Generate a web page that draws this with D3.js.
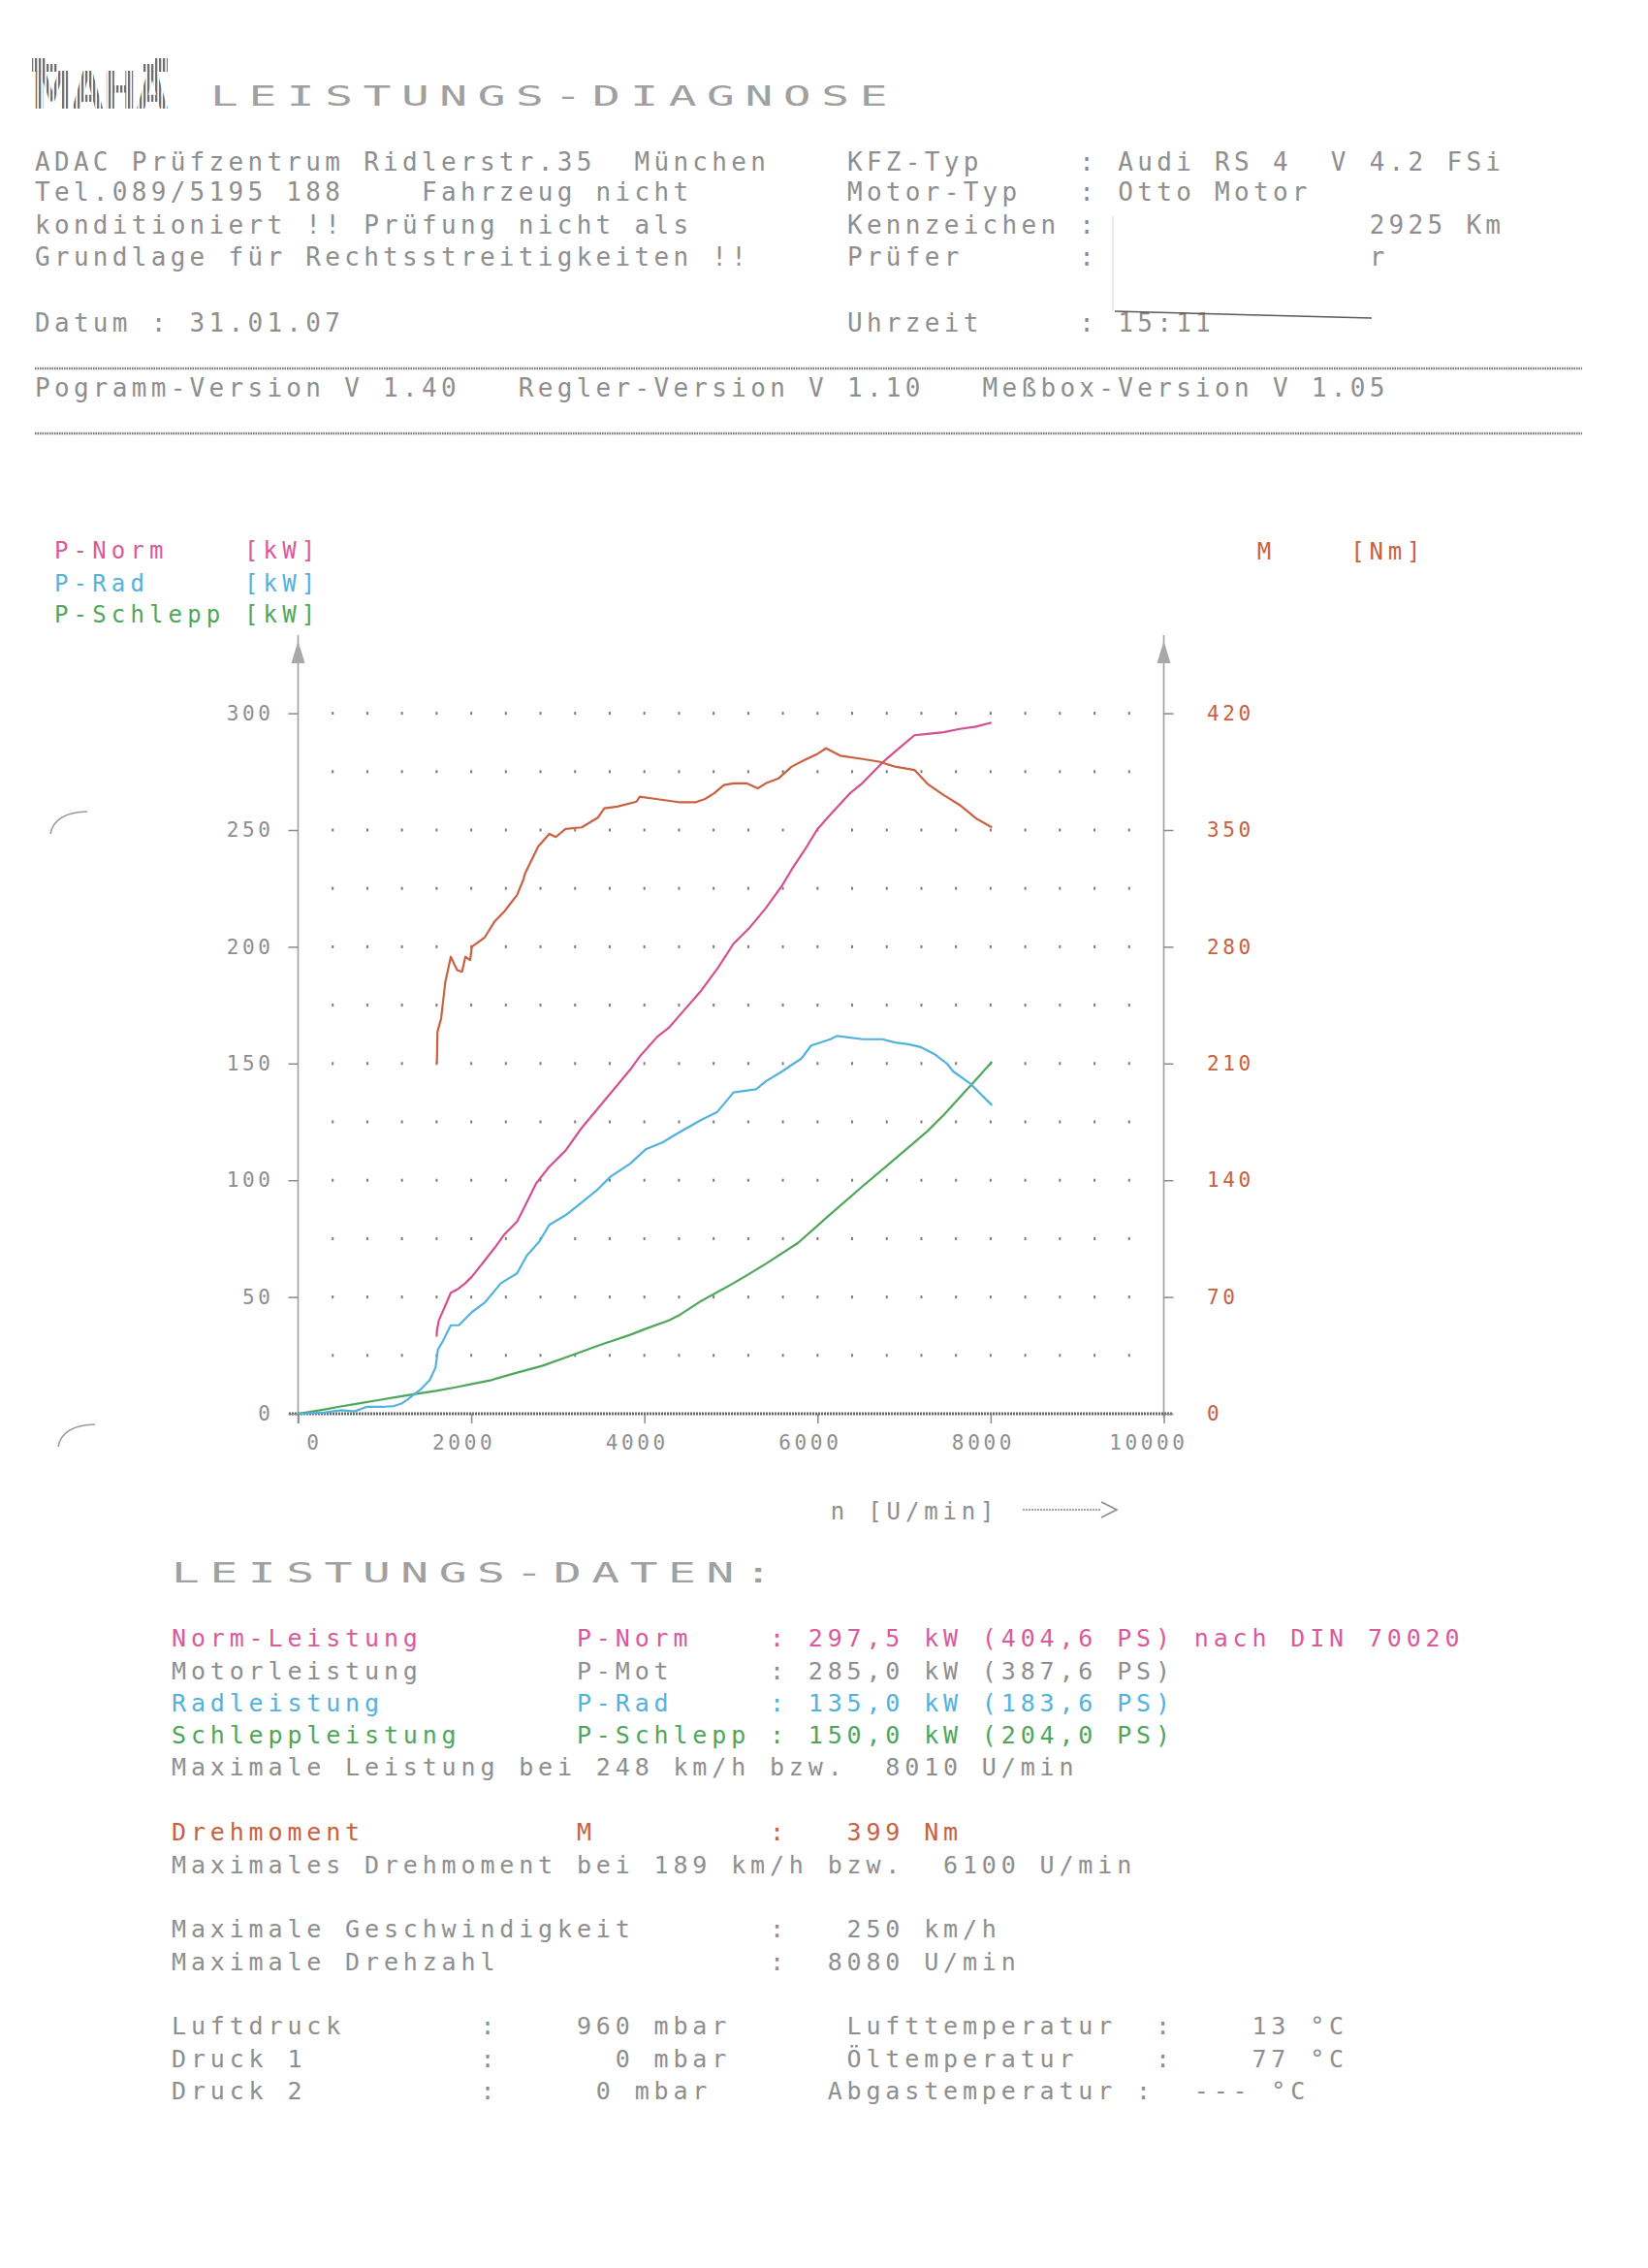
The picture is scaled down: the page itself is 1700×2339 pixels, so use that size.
<!DOCTYPE html>
<html>
<head>
<meta charset="utf-8">
<script src="https://cdn.jsdelivr.net/npm/d3@7"></script>
<style>
body { margin: 0; background: #fff; }
text { white-space: pre; }
</style>
</head>
<body>
<svg id="canvas"></svg>
<script>
// --- data ---
let rpmTicks = [0, 2000, 4000, 6000, 8000, 10000]
let kwTicks = [0, 50, 100, 150, 200, 250, 300]
let nmTicks = [0, 70, 140, 210, 280, 350, 420]

let normRpm = [1600, 1605, 1626, 1708, 1764, 1850, 1932, 2007, 2156, 2270, 2380, 2529, 2604, 2752, 2902, 3089, 3276, 3462, 3649, 3835, 3947, 4150, 4283, 4395, 4656, 4850, 5030, 5216, 5403, 5590, 5702, 5851, 6000, 6150, 6374, 6523, 6747, 6896, 7120, 7270, 7456, 7643, 7830, 8010]
let normKw = [33, 36, 40, 46.9, 51.8, 53.5, 55.9, 58.7, 65.6, 71, 76.7, 82.2, 87.7, 98.8, 105.8, 112.7, 122.4, 130.7, 139, 147.3, 153, 161.5, 165.3, 170.1, 181.2, 191, 201.3, 208.2, 216.5, 226.2, 233.1, 241.4, 250.4, 256.6, 265.7, 270.2, 278.8, 283.6, 290.6, 291.2, 291.9, 293.3, 294.3, 296]

let radRpm = [0, 300, 500, 650, 800, 1000, 1110, 1200, 1260, 1409, 1521, 1588, 1615, 1671, 1764, 1857, 2007, 2156, 2343, 2529, 2641, 2790, 2902, 3089, 3276, 3462, 3611, 3835, 4022, 4208, 4395, 4656, 4843, 5030, 5291, 5403, 5590, 5702, 5814, 5926, 6150, 6224, 6523, 6747, 6896, 7046, 7195, 7344, 7494, 7568, 7755, 8016]
let radKw = [0, 0.5, 1.5, 1, 3, 3, 3.3, 4.5, 6, 10.2, 14.4, 19.9, 27.5, 31, 37.9, 37.9, 43.5, 47.6, 55.9, 60.1, 67.7, 73.9, 80.9, 85, 90.5, 96.1, 101.6, 107.1, 113.4, 116.2, 120.3, 125.8, 129.3, 137.6, 139, 142.4, 146.6, 149.4, 152.1, 157.7, 160.4, 161.8, 160.4, 160.4, 159, 158.3, 157, 154.2, 150, 146.6, 141.7, 132.1]

let schleppRpm = [0, 289, 476, 700, 924, 1148, 1372, 1596, 1820, 2007, 2231, 2529, 2828, 3089, 3276, 3499, 3835, 4022, 4283, 4395, 4656, 5030, 5403, 5776, 6150, 6523, 6896, 7270, 7456, 7643, 7830, 8016]
let schleppKw = [0, 1.7, 3, 4.4, 5.8, 7.2, 8.6, 9.8, 11.3, 12.7, 14.4, 17.6, 20.6, 24.1, 26.6, 29.6, 33.8, 36.5, 40, 42, 48.3, 55.9, 64.2, 73.2, 85.5, 97.5, 109.2, 121, 127.9, 135.5, 143.1, 150.7]

let torqueRpm = [1603, 1610, 1652, 1700, 1764, 1800, 1838, 1894, 1932, 1988, 2007, 2156, 2268, 2380, 2529, 2604, 2622, 2697, 2772, 2902, 2977, 3089, 3276, 3462, 3537, 3686, 3910, 3947, 4134, 4395, 4597, 4700, 4806, 4918, 5030, 5179, 5310, 5403, 5552, 5702, 5851, 6000, 6100, 6262, 6523, 6710, 6896, 7120, 7270, 7456, 7643, 7830, 8016]
let torqueNm = [210, 229, 237, 258.6, 274, 270, 266, 265, 274, 272, 280, 285.6, 295, 301, 311, 320.5, 324, 332, 340, 347.7, 345.8, 350.6, 351.6, 357.4, 363, 364, 367, 370, 368.6, 366.7, 366.7, 368.6, 372, 377, 378, 378, 375, 378, 381, 388, 392, 395.7, 399, 394.6, 392.6, 391, 388, 386, 377.7, 371, 365, 357, 351.6]

let pad = (s, n) => s.padEnd(n)

let headerLines = [
    pad('ADAC Prüfzentrum Ridlerstr.35  München', 42) + pad('KFZ-Typ', 12) + ': Audi RS 4  V 4.2 FSi',
    pad('Tel.089/5195 188    Fahrzeug nicht', 42) + pad('Motor-Typ', 12) + ': Otto Motor',
    pad('konditioniert !! Prüfung nicht als', 42) + pad('Kennzeichen', 12) + pad(':', 15) + '2925 Km',
    pad('Grundlage für Rechtsstreitigkeiten !!', 42) + pad('Prüfer', 12) + pad(':', 15) + 'r',
    pad('Datum : 31.01.07', 42) + pad('Uhrzeit', 12) + ': 15:11',
    'Pogramm-Version V 1.40   Regler-Version V 1.10   Meßbox-Version V 1.05'
]

let resultLines = [
    pad('Norm-Leistung', 21) + pad('P-Norm', 10) + ': 297,5 kW (404,6 PS) nach DIN 70020',
    pad('Motorleistung', 21) + pad('P-Mot', 10) + ': 285,0 kW (387,6 PS)',
    pad('Radleistung', 21) + pad('P-Rad', 10) + ': 135,0 kW (183,6 PS)',
    pad('Schleppleistung', 21) + pad('P-Schlepp', 10) + ': 150,0 kW (204,0 PS)',
    'Maximale Leistung bei 248 km/h bzw.  8010 U/min',
    pad('Drehmoment', 21) + pad('M', 10) + ':   399 Nm',
    'Maximales Drehmoment bei 189 km/h bzw.  6100 U/min',
    pad('Maximale Geschwindigkeit', 31) + ':   250 km/h',
    pad('Maximale Drehzahl', 31) + ':  8080 U/min',
    pad('Luftdruck', 16) + pad(':    960 mbar', 19) + pad('Lufttemperatur', 16) + ':    13 °C',
    pad('Druck 1', 16) + pad(':      0 mbar', 19) + pad('Öltemperatur', 16) + ':    77 °C',
    pad('Druck 2', 16) + pad(':     0 mbar', 18) + pad('Abgastemperatur', 16) + ':  --- °C'
]

// --- look ---
let mono = "'DejaVu Sans Mono', 'Liberation Mono', monospace"
let grey = '#8e8e8e'
let pink = '#d85a9c'
let blue = '#52b2de'
let green = '#4ea65a'
let brown = '#c9603f'

let svg = d3.select('#canvas')
    .attr('width', 1700)
    .attr('height', 2339)
    .attr('viewBox', '0 0 1700 2339')

svg.append('rect').attr('width', 1700).attr('height', 2339).attr('fill', '#fff')

let monoText = (x, y, str, size, pitch, color) => {
    return svg.append('text')
        .attr('x', x)
        .attr('y', y)
        .attr('font-family', mono)
        .attr('font-size', size)
        .attr('letter-spacing', pitch - 0.602 * size)
        .attr('fill', color)
        .attr('xml:space', 'preserve')
        .text(str)
}

// logo
let defs = svg.append('defs')
defs.append('pattern')
    .attr('id', 'stripes')
    .attr('width', 4).attr('height', 4)
    .attr('patternUnits', 'userSpaceOnUse')
    .append('rect').attr('width', 2.3).attr('height', 4).attr('fill', '#707070')

svg.append('text')
    .attr('x', 33).attr('y', 112)
    .attr('font-family', "'DejaVu Sans', sans-serif")
    .attr('font-weight', 'bold')
    .attr('font-size', 54)
    .attr('textLength', 140)
    .attr('lengthAdjust', 'spacingAndGlyphs')
    .attr('fill', 'url(#stripes)')
    .text('MAHA')
;[[33, 60, 14], [47, 66, 12], [147, 66, 12], [159, 60, 14]].forEach(b => {
    svg.append('rect').attr('x', b[0]).attr('y', b[1]).attr('width', b[2]).attr('height', 74 - b[1])
        .attr('fill', 'url(#stripes)')
})

let wideText = (x, y, str) => {
    let sx = 1.65
    svg.append('text')
        .attr('transform', `translate(${x},${y}) scale(${sx},1)`)
        .attr('font-family', mono)
        .attr('font-size', 29)
        .attr('letter-spacing', 39.4 / sx - 0.602 * 29)
        .attr('fill', '#a0a0a0')
        .text(str)
}
wideText(217, 109, 'LEISTUNGS-DIAGNOSE')

let headerY = [175.7, 207, 240.5, 274, 342, 409]
headerLines.forEach((line, i) => monoText(36, headerY[i], line, 26, 19.95, grey))

;[380, 447].forEach(yy => {
    svg.append('line')
        .attr('x1', 36).attr('x2', 1632).attr('y1', yy).attr('y2', yy)
        .attr('stroke', '#737373').attr('stroke-width', 2.5).attr('stroke-dasharray', '1.5,1')
})

// pen stroke and whiteout edge next to Uhrzeit
svg.append('path').attr('d', 'M1150,321 L1300,325 L1415,328')
    .attr('fill', 'none').attr('stroke', '#5a5a5a').attr('stroke-width', 1.6)
svg.append('line').attr('x1', 1148).attr('x2', 1148).attr('y1', 223).attr('y2', 320)
    .attr('stroke', '#e2e2e2').attr('stroke-width', 1.5)

// punch holes
svg.append('path').attr('d', 'M52,860 Q56,838 90,837')
    .attr('fill', 'none').attr('stroke', '#9a9a9a').attr('stroke-width', 1.5)
svg.append('path').attr('d', 'M60,1492 Q64,1470 98,1469')
    .attr('fill', 'none').attr('stroke', '#9a9a9a').attr('stroke-width', 1.5)

// --- chart ---
let x = d3.scaleLinear().domain([0, 10000]).range([307.5, 1200.5])
let yKw = d3.scaleLinear().domain([0, 300]).range([1458, 735.6])
let yNm = d3.scaleLinear().domain([0, 420]).range([1458, 735.6])

let legend = [['P-Norm    [kW]', pink], ['P-Rad     [kW]', blue], ['P-Schlepp [kW]', green]]
let legendY = [576, 610, 642]
legend.forEach((d, i) => monoText(56, legendY[i], d[0], 24, 19.6, d[1]))
monoText(1296.7, 576.7, 'M    [Nm]', 24, 19.3, brown)

let plot = svg.append('g')

let gridRpm = d3.range(400, 10000, 400)
let gridKw = d3.range(25, 301, 25)
plot.selectAll('rect.dot')
    .data(d3.cross(gridRpm, gridKw))
    .enter()
    .append('rect')
    .attr('class', 'dot')
    .attr('x', d => x(d[0]) - 1)
    .attr('y', d => yKw(d[1]) - 1.5)
    .attr('width', 2)
    .attr('height', 3)
    .attr('fill', '#7a7a7a')

// y axis lines with arrow heads
;[[x(0), 1468], [x(10000), 1462]].forEach(a => {
    plot.append('line')
        .attr('x1', a[0]).attr('x2', a[0]).attr('y1', 655).attr('y2', a[1])
        .attr('stroke', '#a0a0a0').attr('stroke-width', 1.6)
    plot.append('path')
        .attr('d', `M${a[0] - 7},684 L${a[0]},661 L${a[0] + 7},684 Z`)
        .attr('fill', '#a8a8a8')
})

let tickSize = 21
let tickLs = 16.3 - 0.602 * tickSize

let styleAxis = (g, color) => {
    g.select('.domain').remove()
    g.selectAll('line').attr('stroke', '#8a8a8a').attr('stroke-width', 1.5)
    g.selectAll('text')
        .attr('font-family', mono)
        .attr('font-size', tickSize)
        .attr('letter-spacing', tickLs)
        .attr('fill', color)
}

let gx = plot.append('g')
    .attr('transform', `translate(0,${yKw(0)})`)
    .call(d3.axisBottom(x).tickValues(rpmTicks).tickSize(10).tickFormat(d => d))
styleAxis(gx, grey)
gx.selectAll('text')
    .attr('text-anchor', 'end')
    .attr('x', 21 + tickLs)
    .attr('y', 37)
    .attr('dy', 0)

plot.append('line')
    .attr('x1', 298).attr('x2', 1210).attr('y1', yKw(0)).attr('y2', yKw(0))
    .attr('stroke', '#666').attr('stroke-width', 3).attr('stroke-dasharray', '2,1')

let gl = plot.append('g')
    .attr('transform', `translate(${x(0)},0)`)
    .call(d3.axisLeft(yKw).tickValues(kwTicks).tickSize(10))
styleAxis(gl, grey)
gl.selectAll('text').attr('x', -28.5 + tickLs).attr('dy', '0.32em')

let gr = plot.append('g')
    .attr('transform', `translate(${x(10000)},0)`)
    .call(d3.axisRight(yNm).tickValues(nmTicks).tickSize(10))
styleAxis(gr, brown)
gr.selectAll('text').attr('x', 44.5).attr('dy', '0.32em')

let series = [
    { rpm: schleppRpm, val: schleppKw, scale: yKw, color: green },
    { rpm: radRpm, val: radKw, scale: yKw, color: blue },
    { rpm: normRpm, val: normKw, scale: yKw, color: '#d44e92' },
    { rpm: torqueRpm, val: torqueNm, scale: yNm, color: brown }
]

series.forEach(s => {
    let line = d3.line()
        .x(d => x(d[0]))
        .y(d => s.scale(d[1]))
    plot.append('path')
        .datum(d3.zip(s.rpm, s.val))
        .attr('d', line)
        .attr('fill', 'none')
        .attr('stroke', s.color)
        .attr('stroke-width', 2.2)
        .attr('stroke-linejoin', 'round')
})

monoText(856.7, 1566.7, 'n [U/min]', 24, 19.3, grey)
svg.append('line')
    .attr('x1', 1055).attr('x2', 1136).attr('y1', 1557).attr('y2', 1557)
    .attr('stroke', '#8a8a8a').attr('stroke-width', 1.6).attr('stroke-dasharray', '2,1')
svg.append('path').attr('d', 'M1136,1549 L1152,1557 L1136,1565')
    .attr('fill', 'none').attr('stroke', '#8a8a8a').attr('stroke-width', 1.6)

// --- results block ---
wideText(177, 1631.7, 'LEISTUNGS-DATEN:')

let resultY = [1698.3, 1731.7, 1765, 1798, 1830.7, 1898, 1931.7, 1998, 2031.7, 2098, 2131.7, 2165]
let resultColor = [pink, grey, blue, green, grey, brown, grey, grey, grey, grey, grey, grey]
resultLines.forEach((line, i) => monoText(177, resultY[i], line, 25, 19.9, resultColor[i]))
</script>
</body>
</html>
